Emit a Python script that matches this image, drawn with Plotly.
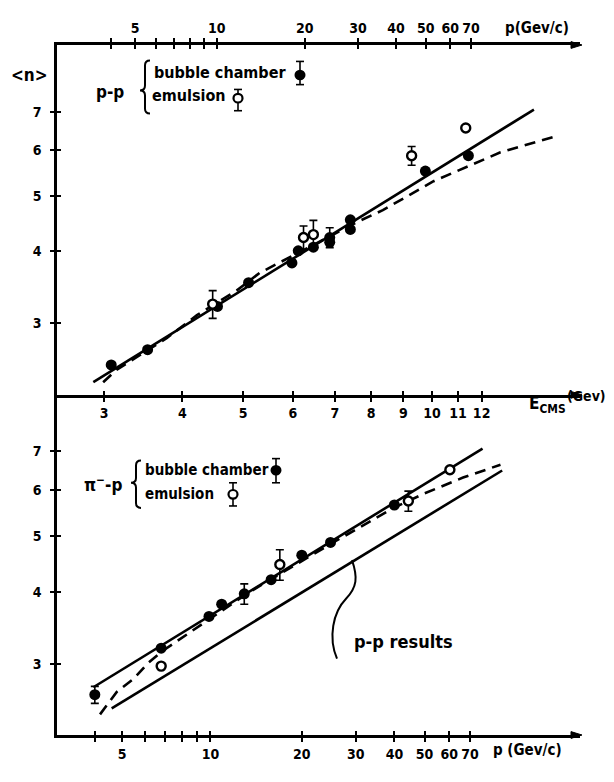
import math
import plotly.graph_objects as go

# ---------------- data (x = E_cms in GeV, y = <n>) ----------------
# p-p panel
pp_bubble_E = [3.08, 3.52, 4.55, 5.10, 5.98, 6.12, 6.47, 6.87, 6.87, 7.41, 7.41, 9.76, 11.43]
pp_bubble_n = [2.54, 2.70, 3.21, 3.53, 3.82, 4.01, 4.07, 4.23, 4.15, 4.54, 4.37, 5.52, 5.87]
pp_bubble_err = [0, 0, 0, 0, 0, 0, 0, 0.17, 0, 0, 0, 0, 0]
pp_emul_E = [4.47, 6.24, 6.47, 9.28, 11.32]
pp_emul_n = [3.24, 4.23, 4.28, 5.87, 6.56]
pp_emul_err = [0.18, 0.20, 0.25, 0.22, 0]
pp_solid_E = [2.884, 14.54]
pp_solid_n = [2.37, 7.06]
pp_dash_E = [2.99, 3.14, 3.78, 4.22, 4.88, 5.31, 7.63, 8.35, 10.06, 12.86, 15.66]
pp_dash_n = [2.37, 2.49, 2.83, 3.10, 3.42, 3.67, 4.51, 4.72, 5.30, 5.95, 6.33]

# pi- p panel
pip_bubble_E = [2.90, 3.70, 4.41, 4.62, 5.02, 5.54, 6.20, 6.89, 8.71]
pip_bubble_n = [2.66, 3.20, 3.63, 3.81, 3.97, 4.20, 4.63, 4.87, 5.65]
pip_bubble_err = [0.09, 0, 0, 0, 0.16, 0, 0, 0, 0]
pip_emul_E = [3.70, 5.72, 9.17, 10.68]
pip_emul_n = [2.98, 4.46, 5.74, 6.50]
pip_emul_err = [0, 0.27, 0.23, 0]
pip_solid_E = [2.884, 12.04]
pip_solid_n = [2.74, 7.07]
pip_dash_E = [2.956, 3.143, 3.34, 3.53, 3.71, 5.12, 6.87, 8.67, 9.71, 11.21, 12.86]
pip_dash_n = [2.46, 2.69, 2.83, 3.02, 3.16, 4.00, 4.83, 5.58, 5.91, 6.30, 6.63]
ppres_E = [3.085, 12.94]
ppres_n = [2.52, 6.48]

# tick labels
E_ticks = [3, 4, 5, 6, 7, 8, 9, 10, 11, 12]
P_label_ticks = [5, 10, 20, 30, 40, 50, 60, 70]
P_minor_ticks = [4, 6, 7, 8, 9]
N_ticks = [3, 4, 5, 6, 7]

M_P, M_PI = 0.938, 0.1396


def ecm_pp(p):
    e = math.sqrt(p * p + M_P * M_P)
    return math.sqrt(2 * M_P * M_P + 2 * M_P * e)


def ecm_pip(p):
    e = math.sqrt(p * p + M_PI * M_PI)
    return math.sqrt(M_P * M_P + M_PI * M_PI + 2 * M_P * e)


# ---------------- layout geometry (reference pixel coords) ----------------
OFF = 8                      # default page body margin
W, H = 614 - 2 * OFF, 782 - 2 * OFF
L, R, T, B = 57, 580, 39, 753
MID = 401
D = (B - MID) / (B - T)


def xp(px):
    return (px - L) / (R - L)


def yp(py):
    return (B - py) / (B - T)


XR = [math.log10(2.524), math.log10(17.22)]
Y2R = [0.35275, 0.96115]
Y1R = [0.35539, 0.94206]

FONT = "Liberation Sans Narrow, DejaVu Sans Condensed, DejaVu Sans, sans-serif"
BLK = "black"

fig = go.Figure()


def line_tr(x, y, xa, ya, dash="solid"):
    fig.add_trace(go.Scatter(x=x, y=y, mode="lines", xaxis=xa, yaxis=ya,
                             line=dict(color=BLK, width=2.6, dash=dash),
                             hoverinfo="skip", showlegend=False))


def pts(x, y, err, xa, ya, filled):
    fig.add_trace(go.Scatter(
        x=x, y=y, mode="markers", xaxis=xa, yaxis=ya, showlegend=False,
        error_y=dict(type="data", array=err, visible=True, color=BLK,
                     thickness=1.6, width=4),
        marker=dict(symbol="circle", size=11 if filled else 9,
                    color=BLK if filled else "white",
                    line=dict(color=BLK, width=0 if filled else 2.4))))


dash = "11px,7px"
# top panel (x2, y2)
line_tr(pp_solid_E, pp_solid_n, "x2", "y2")
line_tr(pp_dash_E, pp_dash_n, "x2", "y2", dash)
pts(pp_bubble_E, pp_bubble_n, pp_bubble_err, "x2", "y2", True)
pts(pp_emul_E, pp_emul_n, pp_emul_err, "x2", "y2", False)
# bottom panel (x, y)
line_tr(pip_solid_E, pip_solid_n, "x", "y")
line_tr(pip_dash_E, pip_dash_n, "x", "y", dash)
line_tr(ppres_E, ppres_n, "x", "y")
pts(pip_bubble_E, pip_bubble_n, pip_bubble_err, "x", "y", True)
pts(pip_emul_E, pip_emul_n, pip_emul_err, "x", "y", False)

# empty traces so that the overlay (tick) axes get drawn
for xa, ya in (("x3", "y2"), ("x4", "y"), ("x5", "y2"), ("x6", "y2"),
               ("x", "y3"), ("x2", "y4")):
    fig.add_trace(go.Scatter(x=[None], y=[None], xaxis=xa, yaxis=ya,
                             mode="markers", showlegend=False, hoverinfo="skip"))

tickfont = dict(family=FONT, size=14, color=BLK, weight="bold")
base = dict(type="log", range=XR, showgrid=False, zeroline=False, showline=True,
            linecolor=BLK, linewidth=2.5, ticks="outside", ticklen=4,
            tickwidth=2, tickcolor=BLK, tickfont=tickfont)
hid = dict(type="log", range=XR, showgrid=False, zeroline=False, showline=False,
           ticks="inside", ticklen=4, tickwidth=2, tickcolor=BLK,
           showticklabels=False)


def minor(vals, side):
    return dict(tickmode="array", tickvals=vals, ticks=side, ticklen=4,
                tickwidth=2, tickcolor=BLK, showgrid=False)


pip_lab = [ecm_pip(p) for p in P_label_ticks]
pip_min = [ecm_pip(p) for p in P_minor_ticks]
pp_lab = [ecm_pp(p) for p in P_label_ticks]
pp_min = [ecm_pp(p) for p in P_minor_ticks]
p_text = [str(p) for p in P_label_ticks]

ybase = dict(type="log", showgrid=False, zeroline=False, showline=True,
             linecolor=BLK, linewidth=2.5, ticks="outside", ticklen=4,
             tickwidth=2, tickcolor=BLK, tickfont=tickfont,
             tickvals=N_ticks, ticktext=[str(v) for v in N_ticks],
             ticklabelstandoff=6)
yhid = dict(type="log", showgrid=False, zeroline=False, showline=False,
            ticks="inside", ticklen=4, tickwidth=2, tickcolor=BLK,
            showticklabels=False, tickvals=N_ticks)

fig.update_layout(
    width=W, height=H,
    margin=dict(l=L - OFF, r=W - (R - OFF), t=T - OFF, b=H - (B - OFF), pad=0),
    paper_bgcolor="white", plot_bgcolor="white",
    showlegend=False,
    xaxis=dict(base, anchor="y", domain=[0, 1], tickvals=pip_lab, ticktext=p_text,
               minor=minor(pip_min, "outside")),
    xaxis2=dict(base, anchor="y2", domain=[0, 1], tickvals=E_ticks,
                ticktext=[str(v) for v in E_ticks]),
    xaxis3=dict(base, anchor="y2", overlaying="x2", side="top", tickvals=pp_lab,
                ticktext=p_text, minor=minor(pp_min, "outside")),
    xaxis4=dict(hid, anchor="y", overlaying="x", tickvals=pip_lab,
                minor=minor(pip_min, "inside")),
    xaxis5=dict(hid, anchor="y2", overlaying="x2", tickvals=E_ticks),
    xaxis6=dict(hid, anchor="y2", overlaying="x2", side="top", tickvals=pp_lab,
                minor=minor(pp_min, "inside")),
    yaxis=dict(ybase, anchor="x", domain=[0, D], range=Y1R),
    yaxis2=dict(ybase, anchor="x2", domain=[D, 1], range=Y2R),
    yaxis3=dict(yhid, anchor="x", overlaying="y", range=Y1R),
    yaxis4=dict(yhid, anchor="x2", overlaying="y2", range=Y2R),
)

ann = []


def text(s, px, py, size=16, xanchor="center"):
    ann.append(dict(text=s, x=xp(px), y=yp(py), xref="paper", yref="paper",
                    showarrow=False, xanchor=xanchor, yanchor="middle",
                    font=dict(family=FONT, size=size, color=BLK, weight="bold")))


text("&lt;n&gt;", 29, 70, 17)
text("p-p", 110, 88, 17)
text("bubble chamber", 152, 67, 16, "left")
text("emulsion", 150, 91, 16, "left")
text("π<sup>−</sup>-p", 103, 493, 17)
text("bubble chamber", 143, 479, 15, "left")
text("emulsion", 143, 504, 15, "left")
text("E<sub>CMS</sub>", 527, 411, 17, "left")
text("(Gev)", 565, 402, 14, "left")
text("p(Gev/c)", 503, 21, 15, "left")
text("p (Gev/c)", 491, 769, 15, "left")
text("p-p results", 352, 656, 18, "left")

shapes = []


def pth(cmds):
    out = []
    for c in cmds:
        if isinstance(c, str):
            out.append(c)
        else:
            out.append(f"{xp(c[0]):.5f},{yp(c[1]):.5f}")
    return " ".join(out)


# arrow heads at the right end of the three horizontal axes
for y in (B, MID, T):
    shapes.append(dict(type="path", xref="paper", yref="paper",
                       path=pth(["M", (R - 9, y - 3.5), "L", (R + 2, y),
                                 "L", (R - 9, y + 3.5), "Z"]),
                       fillcolor=BLK, line=dict(color=BLK, width=1)))


def brace(xl, xm, xr, yt, ym, yb, r=5):
    d = pth(["M", (xr, yt), "Q", (xm, yt), (xm, yt + r), "L", (xm, ym - r),
             "Q", (xm, ym), (xl, ym), "Q", (xm, ym), (xm, ym + r),
             "L", (xm, yb - r), "Q", (xm, yb), (xr, yb)])
    shapes.append(dict(type="path", path=d, xref="paper", yref="paper",
                       line=dict(color=BLK, width=2)))


brace(140, 145, 150, 55, 86, 110)
brace(131, 136, 141, 469, 492, 518)

# pointer from p-p line to label
d = pth(["M", (352, 572), "C", (358, 590), (357, 600), (346, 612),
         "C", (333, 626), (328, 652), (337, 674)])
shapes.append(dict(type="path", path=d, xref="paper", yref="paper",
                   line=dict(color=BLK, width=2)))


def key(cx, cy, yt, yb, filled):
    for (a, b) in ((yt, cy), (cy, yb)):
        shapes.append(dict(type="line", xref="paper", yref="paper",
                           x0=xp(cx), x1=xp(cx), y0=yp(a), y1=yp(b),
                           line=dict(color=BLK, width=1.6)))
    for yy in (yt, yb):
        shapes.append(dict(type="line", xref="paper", yref="paper",
                           x0=xp(cx - 4), x1=xp(cx + 4), y0=yp(yy), y1=yp(yy),
                           line=dict(color=BLK, width=1.6)))
    r = 5.5 if filled else 4.5
    shapes.append(dict(type="circle", xref="paper", yref="paper",
                       x0=xp(cx - r), x1=xp(cx + r), y0=yp(cy + r), y1=yp(cy - r),
                       fillcolor=BLK if filled else "white",
                       line=dict(color=BLK, width=0 if filled else 2.2)))


key(300, 70, 56, 80, True)
key(238, 94, 85, 107, False)
key(276, 479, 467, 492, True)
key(233, 504, 492, 516, False)

fig.update_layout(annotations=ann, shapes=shapes)
fig.write_html("out.html")
